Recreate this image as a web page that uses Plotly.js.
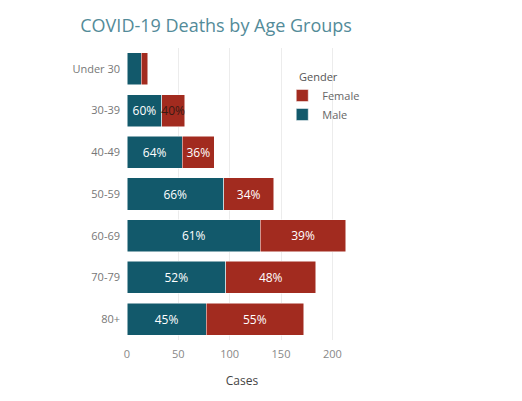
<!DOCTYPE html>
<html>
<head>
<meta charset="utf-8">
<script src="https://cdn.plot.ly/plotly-3.0.1.min.js"></script>
<style>html,body{margin:0;padding:0;background:#fff;}#chart{width:522px;height:401px;}</style>
</head>
<body>
<div id="chart"></div>
<script>
const ageGroups = ["Under 30", "30-39", "40-49", "50-59", "60-69", "70-79", "80+"];
const maleDeaths = [14, 34, 54, 94, 130, 96, 77];
const femaleDeaths = [6, 22, 31, 49, 83, 88, 95];
const malePct = ["", "60%", "64%", "66%", "61%", "52%", "45%"];
const femalePct = ["", "40%", "36%", "34%", "39%", "48%", "55%"];
const xTicks = [0, 50, 100, 150, 200];

const FONT = "Open Sans, Lato, sans-serif";
const femaleTextColors = femalePct.map((t, i) => i === 1 ? "#3a1a14" : "#ffffff");

const traces = [
  {
    type: "bar", orientation: "h", name: "Male",
    y: ageGroups, x: maleDeaths,
    text: malePct, textposition: "inside", insidetextanchor: "middle",
    textangle: 0, constraintext: "none",
    textfont: {color: "#ffffff", size: 12, family: FONT},
    marker: {color: "#12596b", line: {color: "#ffffff", width: 0.5}},
    hoverinfo: "x+y+name"
  },
  {
    type: "bar", orientation: "h", name: "Female",
    y: ageGroups, x: femaleDeaths,
    text: femalePct, textposition: "inside", insidetextanchor: "middle",
    textangle: 0, constraintext: "none",
    textfont: {color: femaleTextColors, size: 12, family: FONT},
    marker: {color: "#a22b1f", line: {color: "#ffffff", width: 0.5}},
    hoverinfo: "x+y+name"
  }
];

const layout = {
  width: 522, height: 401,
  paper_bgcolor: "#ffffff", plot_bgcolor: "#ffffff",
  font: {family: FONT, color: "#666666", size: 11},
  margin: {l: 127, r: 165, t: 48, b: 61, autoexpand: false},
  barmode: "stack", bargap: 0.23,
  title: {
    text: "COVID-19 Deaths by Age Groups",
    font: {family: FONT, size: 18, color: "#538b99"},
    xref: "container", x: 0.414, xanchor: "center",
    yref: "container", y: 0.935, yanchor: "middle"
  },
  xaxis: {
    range: [0, 224], tickvals: xTicks, ticktext: xTicks.map(String),
    tickangle: 0, ticklabelstandoff: 6,
    showgrid: true, gridcolor: "#ececec", gridwidth: 1,
    zeroline: false, showline: false, ticks: "",
    tickfont: {size: 11, color: "#888888"},
    title: {text: "Cases", font: {size: 12, color: "#444444"}, standoff: 16}
  },
  yaxis: {
    type: "category", autorange: "reversed",
    showgrid: false, zeroline: false, showline: false, ticks: "",
    ticklabelstandoff: 6,
    tickfont: {size: 11, color: "#777777"}
  },
  legend: {
    xref: "paper", x: 0.675, yref: "paper", y: 0.887, yanchor: "top", xanchor: "left",
    traceorder: "reversed",
    font: {size: 11, color: "#666666"},
    itemwidth: 30, tracegroupgap: 0,
    bgcolor: "rgba(0,0,0,0)"
  },
  annotations: [{
    text: "Gender", xref: "paper", yref: "paper",
    x: 0.74, y: 0.902, xanchor: "left", yanchor: "middle",
    showarrow: false, font: {size: 11, color: "#555555"}
  }],
  showlegend: true
};

Plotly.newPlot("chart", traces, layout, {displayModeBar: false, staticPlot: true});
</script>
</body>
</html>
